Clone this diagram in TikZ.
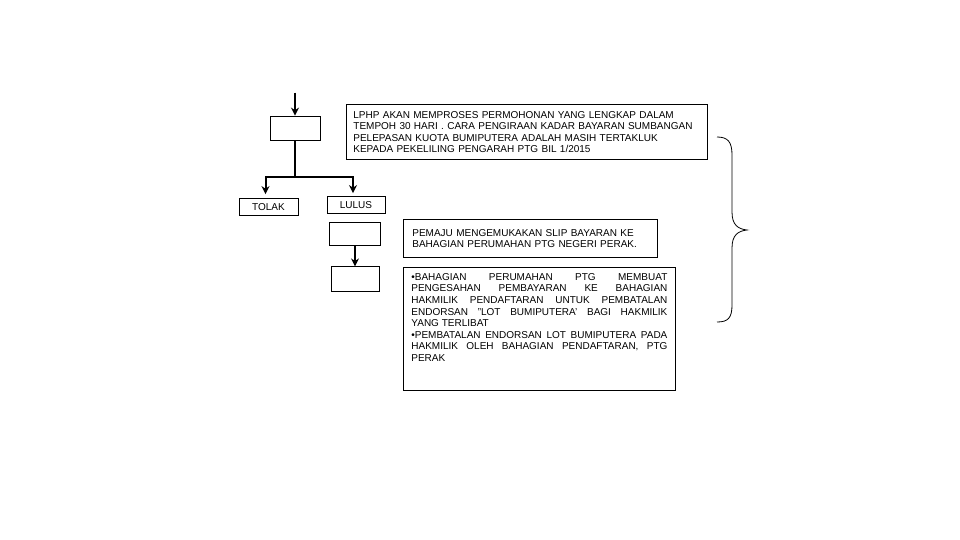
\documentclass[tikz,border=0pt]{standalone}
\usepackage{fontspec}
\setmainfont{Liberation Sans}
\usetikzlibrary{positioning, arrows.meta}

\tikzset{
  box/.style={draw, line width=0.8pt, inner sep=0pt, font=\fontsize{10}{11.5}\selectfont},
  flow/.style={line width=2pt},
  note/.style={box, anchor=north west, align=left}
}

\begin{document}
\begin{tikzpicture}[>={Stealth[length=8pt, width=8pt]}, x=1pt, y=-1pt]
        \useasboundingbox (0,0) rectangle (960,540);

        % Nodes
        \node[box, minimum width=50pt, minimum height=24pt] (review) at (295,128) {};
        \node[box, minimum width=59pt, minimum height=17pt] (tolak) at (268.5,207) {TOLAK};
        \node[box, minimum width=58pt, minimum height=17pt] (lulus) at (356,205) {LULUS};
        \node[box, minimum width=51pt, minimum height=23pt] (slip) at (355,233.5) {};
        \node[box, minimum width=48pt, minimum height=25pt, below=21pt of slip.south, anchor=north] (sahkan) {};
        \coordinate (entry) at ([yshift=23pt]review.north);
        \coordinate (split) at ([yshift=-37pt]review.south);

        % Notes
        \node[note, minimum width=361pt, minimum height=55pt, inner xsep=7pt, text width=347pt] (noteproses) at (346,104)
          {LPHP AKAN MEMPROSES PERMOHONAN YANG LENGKAP DALAM\\
           TEMPOH 30 HARI . CARA PENGIRAAN KADAR BAYARAN SUMBANGAN\\
           PELEPASAN KUOTA BUMIPUTERA ADALAH MASIH TERTAKLUK\\
           KEPADA PEKELILING PENGARAH PTG BIL 1/2015};
        \node[note, minimum width=254pt, minimum height=38pt, inner xsep=9pt, text width=236pt] (noteslip) at (403,219)
          {PEMAJU MENGEMUKAKAN SLIP BAYARAN KE\\
           BAHAGIAN PERUMAHAN PTG NEGERI PERAK.};
        \node[box, anchor=north west, inner xsep=8pt, inner ysep=6pt] (notebatal) at (403,267)
          {\parbox[c][111pt][t]{256pt}{\fontsize{10}{11.6}\selectfont
           •BAHAGIAN PERUMAHAN PTG MEMBUAT\linebreak
           PENGESAHAN PEMBAYARAN KE BAHAGIAN\linebreak
           HAKMILIK PENDAFTARAN UNTUK PEMBATALAN\linebreak
           ENDORSAN "LOT BUMIPUTERA' BAGI HAKMILIK\linebreak
           YANG TERLIBAT\par
           •PEMBATALAN ENDORSAN LOT BUMIPUTERA PADA\linebreak
           HAKMILIK OLEH BAHAGIAN PENDAFTARAN, PTG\linebreak
           PERAK}};

        % Flow
        \draw[->, flow] (entry) -- (review.north);
        \draw[flow] (review.south) -- (split);
        \draw[->, flow, shorten >=4pt] (split) -| ([xshift=-3pt]tolak.north);
        \draw[->, flow, shorten >=3pt] (split) -| ([xshift=-3pt]lulus.north);
        \draw[->, flow] (slip.south) -- (sahkan.north);

        % Brace
        \draw[line width=0.8pt] (717,137) .. controls (728,137) and (732,142) .. (732,155) -- (732,212)
          .. controls (732,225) and (738,229) .. (747,230)
          .. controls (738,231) and (732,235) .. (732,248) -- (732,305)
          .. controls (732,318) and (728,322) .. (717,322);
    \end{tikzpicture}
\end{document}
